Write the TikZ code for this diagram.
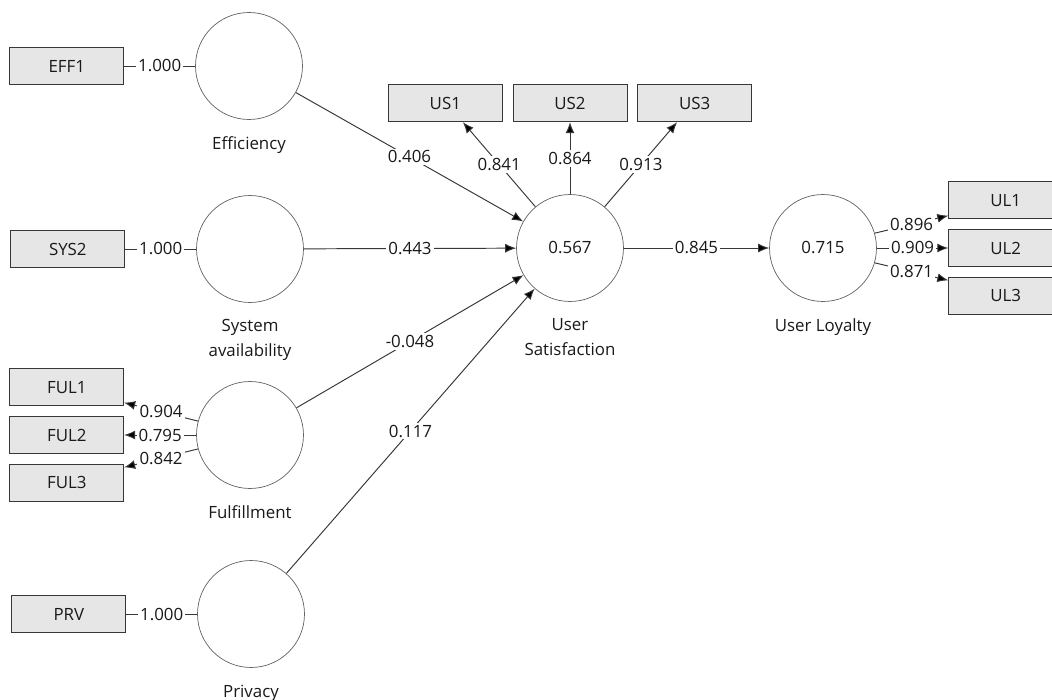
\documentclass[tikz,border=0pt]{standalone}
\usepackage{fontspec}
\setmainfont{Open Sans}
\usetikzlibrary{arrows.meta, positioning}
\definecolor{cLine}{RGB}{55,55,55}
\definecolor{cRing}{RGB}{100,100,100}
\definecolor{cBox}{RGB}{230,230,230}
\definecolor{cText}{RGB}{25,25,25}
\tikzset{
    latent/.style    ={circle, draw=cRing, fill=white, minimum size=2.14cm, inner sep=0pt, text=cText},
    indicator/.style ={rectangle, draw=cLine, fill=cBox, minimum width=2.28cm, minimum height=0.74cm, inner sep=0pt, text=cText},
    caption/.style   ={align=center, inner sep=0pt, text=cText},
    coef/.style      ={fill=white, inner sep=1.2pt, text=cText},
    loading/.style   ={-{Latex[length=2.2mm, width=1.8mm, fill=black]}, draw=cLine, line width=0.55pt},
    plainline/.style ={draw=cLine, line width=0.55pt},
}

\begin{document}
\begin{tikzpicture}[x=0.02cm, y=-0.02cm, font=\fontsize{9.6}{14}\selectfont]
    \useasboundingbox (0,0) rectangle (1052,700);
    % latent variables
    \node[latent] (eff) at (249,66) {};
    \node[latent] (sys) at (250,249) {};
    \node[latent] (ful) at (250,435) {};
    \node[latent] (prv) at (251,614) {};
    \node[latent] (us) at (570,248) {0.567};
    \node[latent] (ul) at (823,248) {0.715};
    \node[caption, below=0.33cm of eff] (effcap) {Efficiency};
    \node[caption, below=0.33cm of sys] (syscap) {System\\availability};
    \node[caption, below=0.33cm of ful] (fulcap) {Fulfillment};
    \node[caption, below=0.33cm of prv] (prvcap) {Privacy};
    \node[caption, below=0.33cm of us] (uscap) {User\\Satisfaction};
    \node[caption, below=0.33cm of ul] (ulcap) {User Loyalty};
    % indicators
    \node[indicator, left=1.42cm of eff] (eff1) {EFF1};
    \node[indicator, left=1.42cm of sys] (sys2) {SYS2};
    \node[indicator, left=1.44cm of ful] (ful2) {FUL2};
    \node[indicator, above=0.2cm of ful2] (ful1) {FUL1};
    \node[indicator, below=0.2cm of ful2] (ful3) {FUL3};
    \node[indicator, left=1.42cm of prv] (prv1) {PRV};
    \node[indicator, above=1.44cm of us] (us2) {US2};
    \node[indicator, left=0.2cm of us2] (us1) {US1};
    \node[indicator, right=0.2cm of us2] (us3) {US3};
    \node[indicator, right=1.43cm of ul] (ul2) {UL2};
    \node[indicator, above=0.2cm of ul2] (ul1) {UL1};
    \node[indicator, below=0.2cm of ul2] (ul3) {UL3};
    % outer loadings
    \draw[plainline] (eff) -- node[coef]{1.000} (eff1);
    \draw[plainline] (sys) -- node[coef]{1.000} (sys2);
    \draw[plainline] (prv) -- node[coef]{1.000} (prv1);
    \draw[loading] (ful.165) -- node[coef]{0.904} (ful1.-15);
    \draw[loading] (ful.180) -- node[coef]{0.795} (ful2.east);
    \draw[loading] (ful.195) -- node[coef]{0.842} (ful3.15);
    \draw[loading] (us.130) -- node[coef]{0.841} (us1.-47);
    \draw[loading] (us) -- node[coef]{0.864} (us2);
    \draw[loading] (us.50) -- node[coef]{0.913} (us3.-133);
    \draw[loading] (ul.16) -- node[coef]{0.896} (ul1.195);
    \draw[loading] (ul) -- node[coef]{0.909} (ul2);
    \draw[loading] (ul.-16) -- node[coef]{0.871} (ul3.165);
    % path coefficients
    \draw[loading] (eff) -- node[coef]{0.406} (us);
    \draw[loading] (sys) -- node[coef]{0.443} (us);
    \draw[loading] (ful) -- node[coef]{-0.048} (us);
    \draw[loading] (prv) -- node[coef]{0.117} (us);
    \draw[loading] (us) -- node[coef]{0.845} (ul);
\end{tikzpicture}
\end{document}
